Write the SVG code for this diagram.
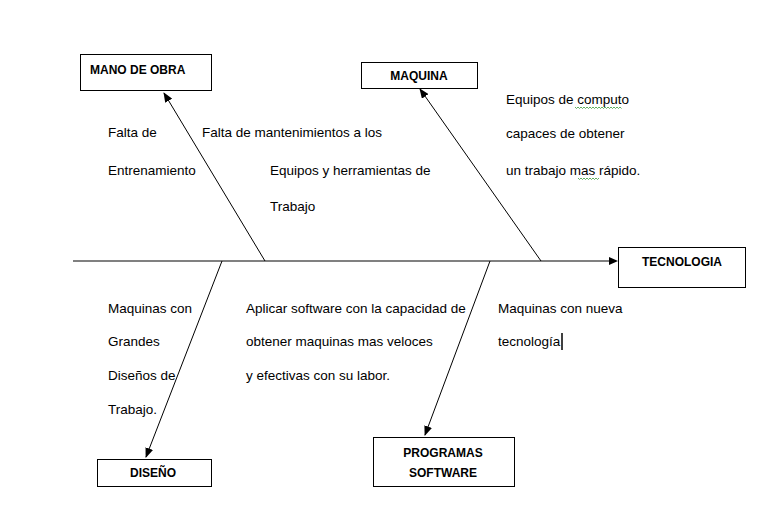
<svg xmlns="http://www.w3.org/2000/svg" width="775" height="529" viewBox="0 0 775 529">
<style>
.box{fill:#fff;stroke:#000;stroke-width:1}
.lbl{font-family:"Liberation Sans",Arial,sans-serif;font-size:12px;font-weight:bold;fill:#000}
.t{font-family:"Liberation Sans",Arial,sans-serif;font-size:13.5px;fill:#000}
.bone{stroke:#000;stroke-width:1;fill:none;marker-end:url(#ah)}
.spine{stroke:#808080;stroke-width:2;fill:none}
.sq{stroke:#3a9a3a;stroke-width:0.8;fill:none}
</style>
<defs>
<marker id="ah" markerWidth="10" markerHeight="8" refX="9" refY="4" orient="auto" markerUnits="userSpaceOnUse">
<path d="M0,0 L10,4 L0,8 Z" fill="#000"/>
</marker>
</defs>
<rect width="775" height="529" fill="#fff"/>
<g id="connectors">
<line class="spine" x1="73" y1="261" x2="611" y2="261"/>
<path d="M609,257 L618,261 L609,265 Z" fill="#000"/>
<line class="bone" x1="265" y1="261" x2="164" y2="93"/>
<line class="bone" x1="541" y1="261" x2="420" y2="89"/>
<line class="bone" x1="222" y1="261" x2="146" y2="457"/>
<line class="bone" x1="490" y1="261" x2="425" y2="435"/>
</g>
<g id="mano-de-obra">
<rect class="box" x="80.5" y="54.5" width="131" height="36"/>
<text class="lbl" x="90" y="74">MANO DE OBRA</text>
</g>
<g id="maquina">
<rect class="box" x="361.5" y="62.5" width="116" height="26"/>
<text class="lbl" x="419" y="80" text-anchor="middle">MAQUINA</text>
</g>
<g id="tecnologia">
<rect class="box" x="618.5" y="247.5" width="127" height="40"/>
<text class="lbl" x="682" y="266" text-anchor="middle">TECNOLOGIA</text>
</g>
<g id="diseno">
<rect class="box" x="97.5" y="459.5" width="114" height="27"/>
<text class="lbl" x="153" y="477" text-anchor="middle">DISEÑO</text>
</g>
<g id="programas-software">
<rect class="box" x="373.5" y="437.5" width="141" height="49"/>
<text class="lbl" x="443" y="457" text-anchor="middle">PROGRAMAS</text>
<text class="lbl" x="443" y="477" text-anchor="middle">SOFTWARE</text>
</g>
<g id="texts">
<text class="t" x="108" y="137">Falta de</text>
<text class="t" x="108" y="175">Entrenamiento</text>
<text class="t" x="202" y="137">Falta de mantenimientos  a los</text>
<text class="t" x="270" y="175">Equipos y herramientas de</text>
<text class="t" x="270" y="211">Trabajo</text>
<text class="t" x="506" y="104">Equipos de computo</text>
<text class="t" x="506" y="138">capaces de obtener</text>
<text class="t" x="506" y="175">un trabajo mas rápido.</text>
<text class="t" x="108" y="313">Maquinas con</text>
<text class="t" x="108" y="346">Grandes</text>
<text class="t" x="108" y="380">Diseños de</text>
<text class="t" x="108" y="414">Trabajo.</text>
<text class="t" x="246" y="313">Aplicar software con la capacidad de</text>
<text class="t" x="246" y="346">obtener maquinas mas veloces</text>
<text class="t" x="246" y="380">y efectivas con su labor.</text>
<text class="t" x="498" y="313">Maquinas con nueva</text>
<text class="t" x="498" y="346">tecnología</text>
<line x1="562" y1="333" x2="562" y2="350" stroke="#000" stroke-width="1.5"/>
<path class="sq" d="M575,107 l1.5,1.5 l1.5,-1.5 l1.5,1.5 l1.5,-1.5 l1.5,1.5 l1.5,-1.5 l1.5,1.5 l1.5,-1.5 l1.5,1.5 l1.5,-1.5 l1.5,1.5 l1.5,-1.5 l1.5,1.5 l1.5,-1.5 l1.5,1.5 l1.5,-1.5 l1.5,1.5 l1.5,-1.5 l1.5,1.5 l1.5,-1.5 l1.5,1.5 l1.5,-1.5 l1.5,1.5 l1.5,-1.5 l1.5,1.5 l1.5,-1.5 l1.5,1.5 l1.5,-1.5 l1.5,1.5 l1.5,-1.5 l1.5,1.5"/>
<path class="sq" d="M578,178 l1.5,1.5 l1.5,-1.5 l1.5,1.5 l1.5,-1.5 l1.5,1.5 l1.5,-1.5 l1.5,1.5 l1.5,-1.5 l1.5,1.5 l1.5,-1.5 l1.5,1.5 l1.5,-1.5 l1.5,1.5 l1.5,-1.5"/>
</g>
</svg>
